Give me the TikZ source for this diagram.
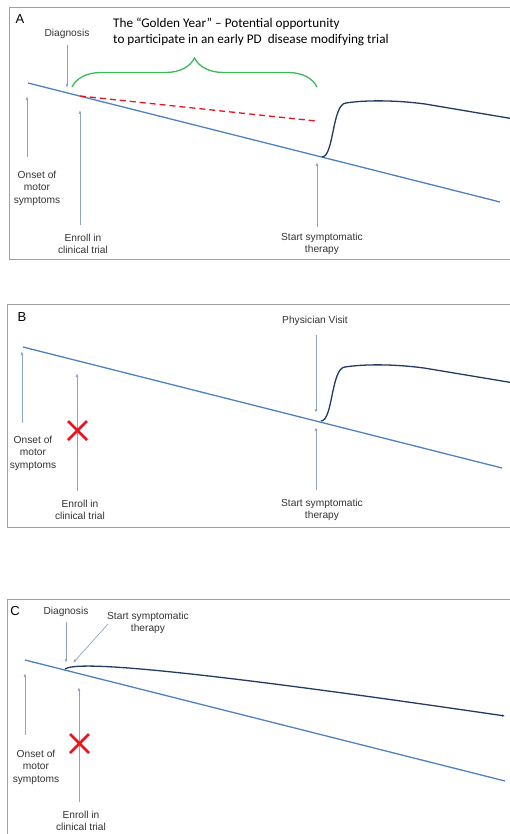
\documentclass[tikz,border=0pt]{standalone}
\usepackage{fontspec}
\setmainfont{Liberation Sans}
\newfontfamily\goldfont{Carlito}
\usetikzlibrary{arrows.meta,decorations.pathreplacing}
\definecolor{trendblue}{RGB}{79,129,189}
\definecolor{curvenavy}{RGB}{35,58,98}
\definecolor{ptrgray}{RGB}{140,165,195}
\definecolor{framegray}{RGB}{160,160,160}
\definecolor{bracegreen}{RGB}{60,185,90}
\definecolor{xred}{RGB}{235,20,30}
\tikzset{
  lbl/.style={align=center, inner sep=0pt, font=\fontsize{10.2}{12.5}\selectfont, text=black!80},
  panellbl/.style={inner sep=0pt, font=\fontsize{13}{15}\selectfont},
  trend/.style={trendblue, line width=1.3pt},
  therapy/.style={curvenavy, line width=1.3pt},
  ptr/.style={ptrgray, line width=0.7pt, -{Latex[length=4pt,width=2.8pt]}},
  panel/.style={framegray, line width=0.8pt},
  nogo/.style={xred, line width=2.6pt}
}
\begin{document}
\begin{tikzpicture}[x=1pt, y=-1pt]
    \useasboundingbox (0,0) rectangle (510,834);
    \clip (0,0) rectangle (510,834);

    %pannello A
    \draw[panel] (9,7) rectangle (516,259);
    \node[panellbl] (labA) at (20,19) {A};
    %andamento malattia
    \coordinate (trendAs) at (28,83);
    \coordinate (trendAe) at (500,202);
    \draw[trend] (trendAs) -- (trendAe);
    %terapia sintomatica
    \coordinate (therAs) at (322,157);
    \draw[therapy] (therAs) .. controls (334,157) and (332,104) .. (346,103)
        .. controls (365,100) and (395,100) .. (425,104) -- (520,120);
    %anno d'oro
    \draw[xred, line width=1.3pt, dash pattern=on 6pt off 4pt] (80,96) -- (316,121);
    \draw[bracegreen, line width=1.3pt, decorate, decoration={brace, amplitude=29pt}] (72,87) -- (317,87);
    \node[anchor=west, align=left, inner sep=0pt, font=\goldfont\fontsize{13.2}{16}\selectfont] (goldA) at (113,32)
        {The “Golden Year” – Potential opportunity\\to participate in an early PD\ \ disease modifying trial};
    %label e frecce
    \node[lbl] (diagA) at (67,34) {Diagnosis};
    \coordinate (diagAt) at (67,45);
    \coordinate (diagAh) at (67,88);
    \draw[ptr] (diagAt) -- (diagAh);
    \node[lbl] (onsetA) at (37,188) {Onset of\\motor\\symptoms};
    \coordinate (onsetAt) at (27,157);
    \coordinate (onsetAh) at (27,96);
    \draw[ptr] (onsetAt) -- (onsetAh);
    \node[lbl] (enrollA) at (83,244) {Enroll in\\clinical trial};
    \coordinate (enrollAt) at (80,225);
    \coordinate (enrollAh) at (80,110);
    \draw[ptr] (enrollAt) -- (enrollAh);
    \node[lbl] (startA) at (322,244) {Start symptomatic\\therapy};
    \coordinate (startAt) at (317,227);
    \coordinate (startAh) at (317,162);
    \draw[ptr] (startAt) -- (startAh);

    %pannello B
    \draw[panel] (7,304) rectangle (516,527);
    \node[panellbl] (labB) at (22,317) {B};
    \coordinate (trendBs) at (23,347);
    \coordinate (trendBe) at (502,468);
    \draw[trend] (trendBs) -- (trendBe);
    \coordinate (therBs) at (321,421);
    \draw[therapy] (therBs) .. controls (333,421) and (331,368) .. (345,367)
        .. controls (364,364) and (394,364) .. (424,368) -- (520,384);
    \node[lbl] (visitB) at (315,321) {Physician Visit};
    \coordinate (visitBt) at (316,335);
    \coordinate (visitBh) at (316,413);
    \draw[ptr] (visitBt) -- (visitBh);
    \node[lbl] (onsetB) at (33,453) {Onset of\\motor\\symptoms};
    \coordinate (onsetBt) at (22,423);
    \coordinate (onsetBh) at (22,351);
    \draw[ptr] (onsetBt) -- (onsetBh);
    \node[lbl] (enrollB) at (80,510) {Enroll in\\clinical trial};
    \coordinate (enrollBt) at (77,491);
    \coordinate (enrollBh) at (77,373);
    \draw[ptr] (enrollBt) -- (enrollBh);
    \node[lbl] (startB) at (322,510) {Start symptomatic\\therapy};
    \coordinate (startBt) at (316,490);
    \coordinate (startBh) at (316,427);
    \draw[ptr] (startBt) -- (startBh);
    %niente arruolamento
    \draw[nogo] (68,421) -- (87,440) (87,421) -- (68,440);

    %pannello C
    \draw[panel] (7,599) rectangle (516,840);
    \node[panellbl] (labC) at (15,611) {C};
    \coordinate (trendCs) at (25,660);
    \coordinate (trendCe) at (505,781);
    \draw[trend] (trendCs) -- (trendCe);
    \coordinate (therCs) at (65,669);
    \coordinate (therCe) at (505,716);
    \draw[therapy, -{Latex[length=3pt,width=2.5pt]}] (therCs) .. controls (75,662) and (150,664) .. (therCe);
    \node[lbl] (diagC) at (66,612) {Diagnosis};
    \coordinate (diagCt) at (66,622);
    \coordinate (diagCh) at (66,663);
    \draw[ptr] (diagCt) -- (diagCh);
    \node[lbl] (startC) at (148,623) {Start symptomatic\\therapy};
    \coordinate (startCt) at (108,624);
    \coordinate (startCh) at (73,663);
    \draw[ptr] (startCt) -- (startCh);
    \node[lbl] (onsetC) at (36,767) {Onset of\\motor\\symptoms};
    \coordinate (onsetCt) at (25,735);
    \coordinate (onsetCh) at (25,673);
    \draw[ptr] (onsetCt) -- (onsetCh);
    \node[lbl] (enrollC) at (81,821) {Enroll in\\clinical trial};
    \coordinate (enrollCt) at (79,802);
    \coordinate (enrollCh) at (79,687);
    \draw[ptr] (enrollCt) -- (enrollCh);
    \draw[nogo] (70,734) -- (89,753) (89,734) -- (70,753);

\end{tikzpicture}
\end{document}
